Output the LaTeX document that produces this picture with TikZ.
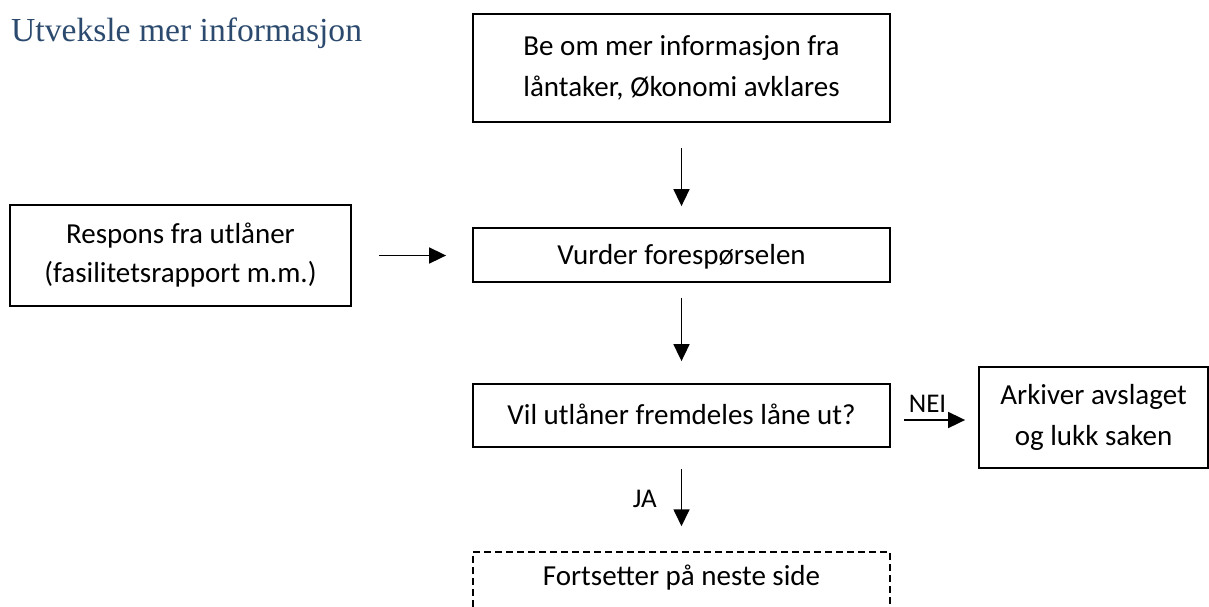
\documentclass[tikz,border=0pt]{standalone}
\usepackage{fontspec}
\setmainfont{Carlito}
\newfontfamily\headfont{Liberation Serif}
\usetikzlibrary{arrows.meta,calc}
\definecolor{headblue}{HTML}{2B4A6E}
\begin{document}
\begin{tikzpicture}[x=1pt,y=-1pt,
  box/.style={draw, line width=1.8pt, align=center, inner sep=0pt,
    font=\fontsize{29}{41}\selectfont},
  onebox/.style={box, text height=20pt, text depth=2pt},
  flow/.style={-{Triangle[length=17pt,width=16pt]}, line width=1.7pt},
  lbl/.style={font=\fontsize{27}{32}\selectfont, inner sep=0pt}]
\useasboundingbox (0,0) rectangle (1209,606);
\clip (0,0) rectangle (1209,606);

% heading
\node[font=\headfont\fontsize{33.6}{40}\selectfont, text=headblue,
  anchor=base west, inner sep=0pt] (title) at (11,41) {Utveksle mer informasjon};

% process boxes
\node[box, minimum width=417pt, minimum height=108pt] (req) at (681.5,68)
  {Be om mer informasjon fra\\låntaker, Økonomi avklares};
\node[box, minimum width=341pt, minimum height=101pt,
  font=\fontsize{29}{39}\selectfont] (resp) at (180.5,255.5)
  {Respons fra utlåner\\(fasilitetsrapport m.m.)};
\node[onebox, minimum width=417pt, minimum height=54pt] (vurd) at (681.5,255)
  {Vurder forespørselen};
\node[onebox, minimum width=417pt, minimum height=63pt] (vil) at (681.5,415.5)
  {Vil utlåner fremdeles låne ut?};
\node[box, minimum width=229pt, minimum height=101pt] (ark) at (1093.5,417.5)
  {Arkiver avslaget\\og lukk saken};
\node[box, line width=1.5pt, dash pattern=on 7pt off 4pt, text height=22pt, text depth=20pt,
  minimum width=417pt, minimum height=64pt] (fort) at (681.5,584)
  {Fortsetter på neste side};

% connectors
\draw[flow, shorten <=25pt, shorten >=21pt] (req) -- (vurd);
\draw[flow, shorten <=27pt, shorten >=26pt] (resp.east) -- (resp.east -| vurd.west);
\draw[flow, shorten <=15pt, shorten >=22pt] (vurd) -- (vil);
\draw[flow, shorten <=13pt, shorten >=13pt] ([yshift=-4.5pt]vil.east) --
  ([yshift=-4.5pt]vil.east -| ark.west)
  node[lbl, anchor=base, yshift=8pt, pos=0.42] {NEI};
\draw[flow, shorten <=21pt, shorten >=25pt] (vil) -- (fort)
  node[lbl, anchor=east, xshift=-24pt, pos=0.49] {JA};
\end{tikzpicture}
\end{document}
